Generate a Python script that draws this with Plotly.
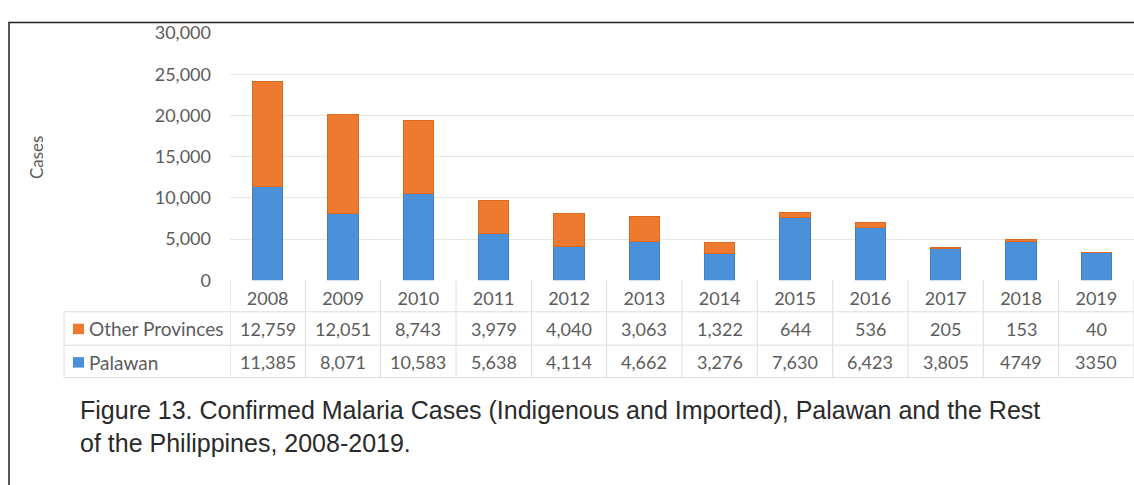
import plotly.graph_objects as go

W, H = 1134, 485

years = ["2008", "2009", "2010", "2011", "2012", "2013", "2014", "2015", "2016", "2017", "2018", "2019"]
other_provinces = [12759, 12051, 8743, 3979, 4040, 3063, 1322, 644, 536, 205, 153, 40]
palawan = [11385, 8071, 10583, 5638, 4114, 4662, 3276, 7630, 6423, 3805, 4749, 3350]
other_labels = ["12,759", "12,051", "8,743", "3,979", "4,040", "3,063", "1,322", "644", "536", "205", "153", "40"]
palawan_labels = ["11,385", "8,071", "10,583", "5,638", "4,114", "4,662", "3,276", "7,630", "6,423", "3,805", "4749", "3350"]
y_ticks = [0, 5000, 10000, 15000, 20000, 25000, 30000]
y_tick_labels = ["0", "5,000", "10,000", "15,000", "20,000", "25,000", "30,000"]

BLUE = "#4a91da"
ORANGE = "#ee7a2f"
TXT = "#5c5c5c"
GRID = "#dcdcdc"
FONT = "Lato"


def px(x):
    return x / W


def py(y):
    return 1 - y / H


fig = go.Figure()
fig.add_trace(go.Bar(x=years, y=palawan, name="Palawan", marker=dict(color=BLUE, line=dict(color="#3f7fc0", width=1)), width=0.4))
fig.add_trace(go.Bar(x=years, y=other_provinces, name="Other Provinces", marker=dict(color=ORANGE, line=dict(color="#d86a22", width=1)), width=0.4))

shapes = []
annotations = []

# outer border
shapes.append(dict(type="rect", xref="paper", yref="paper", x0=px(9), x1=1.05, y0=-0.1, y1=py(11),
                   line=dict(color="#222222", width=1.5), layer="above"))

# table lines
for yy in [314, 349, 383]:
    shapes.append(dict(type="line", xref="paper", yref="paper", x0=px(64), x1=1, y0=py(yy), y1=py(yy),
                       line=dict(color=GRID, width=1)))
shapes.append(dict(type="line", xref="paper", yref="paper", x0=px(64), x1=px(64), y0=py(314), y1=py(383),
                   line=dict(color=GRID, width=1)))
for k in range(len(years) + 1):
    shapes.append(dict(type="line", xref="x", yref="paper", x0=k - 0.5, x1=k - 0.5, y0=py(281), y1=py(383),
                       line=dict(color=GRID, width=1)))

# legend squares in table
for yc, col in [(332, ORANGE), (367, BLUE)]:
    shapes.append(dict(type="rect", xref="paper", yref="paper", x0=px(73), x1=px(84), y0=py(yc + 5.5), y1=py(yc - 5.5),
                       fillcolor=col, line=dict(width=0)))
annotations.append(dict(text="Other Provinces", xref="paper", yref="paper", x=px(87), y=py(332), xanchor="left",
                        yanchor="middle", showarrow=False, font=dict(family=FONT, size=19, color=TXT)))
annotations.append(dict(text="Palawan", xref="paper", yref="paper", x=px(87), y=py(367), xanchor="left",
                        yanchor="middle", showarrow=False, font=dict(family=FONT, size=19, color=TXT)))

for i, (o, p) in enumerate(zip(other_labels, palawan_labels)):
    annotations.append(dict(text=o, xref="x", yref="paper", x=i, y=py(332), xanchor="center", yanchor="middle",
                            showarrow=False, font=dict(family=FONT, size=18, color=TXT)))
    annotations.append(dict(text=p, xref="x", yref="paper", x=i, y=py(367), xanchor="center", yanchor="middle",
                            showarrow=False, font=dict(family=FONT, size=18, color=TXT)))

# caption
annotations.append(dict(
    text="Figure 13. Confirmed Malaria Cases (Indigenous and Imported), Palawan and the Rest<br>of the Philippines, 2008-2019.",
    xref="paper", yref="paper", x=px(78), y=py(400), xanchor="left", yanchor="top", align="left", showarrow=False,
    font=dict(family="Liberation Sans, Arial", size=25, color="#2a2a2a")))

# y-axis title
annotations.append(dict(text="Cases", xref="paper", yref="paper", x=px(36), y=py(152), textangle=-90,
                        xanchor="center", yanchor="middle", showarrow=False, font=dict(family=FONT, size=17, color=TXT)))

fig.update_layout(
    width=W, height=H,
    barmode="stack",
    margin=dict(l=0, r=0, t=0, b=0),
    paper_bgcolor="white", plot_bgcolor="white",
    showlegend=False,
    shapes=shapes,
    annotations=annotations,
    xaxis=dict(domain=[px(230), 1.0], type="category", range=[-0.5, 11.5], showgrid=False, ticks="",
               showline=False, tickfont=dict(family=FONT, size=18, color=TXT), ticklabelstandoff=6),
    yaxis=dict(domain=[py(281), py(22)], range=[0, 30000], tickvals=y_ticks, ticktext=y_tick_labels,
               showgrid=True, gridcolor="#e6e6e6", gridwidth=1, zeroline=False, ticks="", showline=False,
               tickfont=dict(family=FONT, size=18, color=TXT), ticklabelstandoff=18),
)

fig.write_html("out.html")
